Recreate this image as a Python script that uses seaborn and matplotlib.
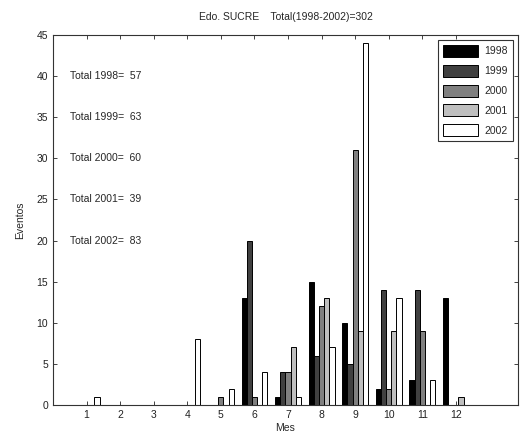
import matplotlib
matplotlib.use("Agg")
import matplotlib.pyplot as plt
import seaborn as sns
import pandas as pd

# Monthly event counts per year
months = [1, 2, 3, 4, 5, 6, 7, 8, 9, 10, 11, 12]
years = ["1998", "1999", "2000", "2001", "2002"]
ev_1998 = [0, 0, 0, 0, 0, 13, 1, 15, 10, 2, 3, 13]
ev_1999 = [0, 0, 0, 0, 0, 20, 4, 6, 5, 14, 14, 0]
ev_2000 = [0, 0, 0, 0, 1, 1, 4, 12, 31, 2, 9, 0]
ev_2001 = [0, 0, 0, 0, 0, 0, 7, 13, 9, 9, 0, 1]
ev_2002 = [1, 0, 0, 8, 2, 4, 1, 7, 44, 13, 3, 0]
series = [ev_1998, ev_1999, ev_2000, ev_2001, ev_2002]
grays = ["#000000", "#404040", "#808080", "#bfbfbf", "#ffffff"]
yticks = [0, 5, 10, 15, 20, 25, 30, 35, 40, 45]

rows = []
for yr, vals in zip(years, series):
    for m, v in zip(months, vals):
        rows.append({"Mes": m, "Eventos": v, "Año": yr})
df = pd.DataFrame(rows)
totals = [sum(v) for v in series]
grand_total = sum(totals)

sns.set_style("ticks")
plt.rcParams["font.family"] = ["Liberation Sans", "DejaVu Sans"]

fig = plt.figure(figsize=(5.23, 4.43), dpi=100)
ax = fig.add_axes([53 / 523, 38 / 443, 465 / 523, 370 / 443])

sns.barplot(data=df, x="Mes", y="Eventos", hue="Año", hue_order=years,
            palette=grays, native_scale=True, width=0.77, errorbar=None,
            edgecolor="black", linewidth=0.7, saturation=1, ax=ax)

ax.set_xlim(0, 13.85)
ax.set_ylim(0, 45)
ax.set_xticks(months)
ax.set_xticklabels([str(m) for m in months])
ax.set_yticks(yticks)
ax.tick_params(direction="in", top=True, right=True, labelsize=7.5,
               length=3, width=0.6, colors="#222222")
for s in ax.spines.values():
    s.set_visible(True)
    s.set_linewidth(0.8)
    s.set_color("#333333")

ax.set_xlabel("Mes", fontsize=7.5, labelpad=2)
ax.set_ylabel("Eventos", fontsize=7.5, labelpad=8)
ax.set_title(f"Edo. SUCRE    Total(1998-2002)={grand_total}", fontsize=7.5, pad=11)

for i, (yr, tot) in enumerate(zip(years, totals)):
    ax.text(0.5, 40 - 5 * i, f"Total {yr}=  {tot}", fontsize=7.5,
            va="center", ha="left")

leg = ax.legend(loc="upper right", fontsize=7.5, frameon=True, fancybox=False,
                edgecolor="black", borderpad=0.45, labelspacing=0.75,
                handlelength=3.4, handleheight=1.4, handletextpad=0.6,
                borderaxespad=0.5, title=None)
leg.get_frame().set_linewidth(0.8)

fig.savefig("out.png", dpi=100)
